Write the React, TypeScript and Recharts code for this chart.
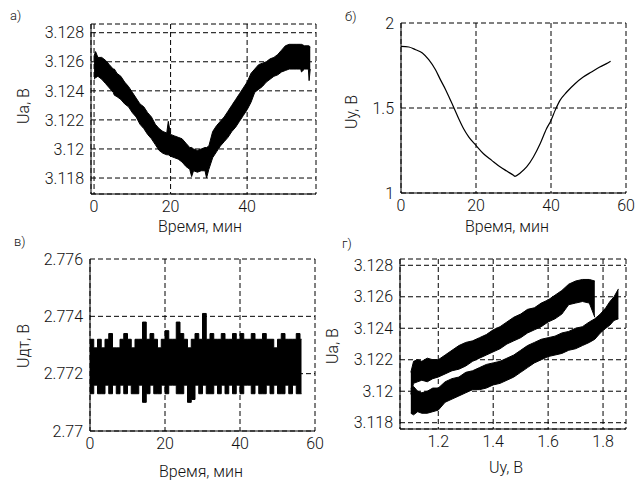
import { ComposedChart, Area, Line, XAxis, YAxis, CartesianGrid } from 'recharts'

const FONT = 'Roboto, "Liberation Sans", Arial, sans-serif'

// а) Ua vs time: noisy band, upper and lower edge
const timeA = [0, 0.4, 1, 2, 3, 4, 5, 5.3, 6, 7, 8, 9, 10, 11, 12, 13, 14, 15, 16, 17, 18, 19, 19.4, 20, 21, 22, 23, 24, 25, 25.5, 26, 27, 28, 29, 29.4, 30, 31, 32, 33, 34, 35, 36, 37, 38, 39, 40, 41, 42, 43, 44, 45, 46, 47, 48, 49, 50, 51, 52, 53, 54, 54.2, 55, 56, 56.2, 56.5]
const uaHiA = [3.1264, 3.1267, 3.1263, 3.1263, 3.1261, 3.1258, 3.1255, 3.1255, 3.1252, 3.125, 3.1246, 3.1243, 3.1239, 3.1235, 3.1231, 3.1229, 3.1225, 3.1222, 3.1217, 3.1214, 3.1212, 3.1211, 3.1219, 3.121, 3.1209, 3.1208, 3.1207, 3.1204, 3.1201, 3.1201, 3.12, 3.1199, 3.12, 3.1201, 3.1201, 3.1202, 3.1212, 3.1216, 3.1219, 3.1222, 3.1226, 3.123, 3.1234, 3.1238, 3.1242, 3.1246, 3.1252, 3.1255, 3.1258, 3.1259, 3.126, 3.1262, 3.1263, 3.1265, 3.1268, 3.1271, 3.1272, 3.1272, 3.1272, 3.1272, 3.1272, 3.1271, 3.1271, 3.1271, 3.127]
const uaLoA = [3.1248, 3.1249, 3.125, 3.1248, 3.1245, 3.1242, 3.1239, 3.1237, 3.1236, 3.1234, 3.1231, 3.1229, 3.1225, 3.1222, 3.1217, 3.1214, 3.121, 3.1207, 3.1203, 3.1199, 3.1197, 3.1196, 3.1196, 3.1195, 3.1194, 3.1193, 3.1191, 3.1188, 3.1186, 3.1181, 3.1185, 3.1184, 3.1185, 3.1185, 3.118, 3.1186, 3.1194, 3.1198, 3.1202, 3.1205, 3.1208, 3.1212, 3.1215, 3.1219, 3.1223, 3.1227, 3.1232, 3.1239, 3.1241, 3.1243, 3.1246, 3.1248, 3.125, 3.1251, 3.1253, 3.1254, 3.1255, 3.1255, 3.1255, 3.1255, 3.1253, 3.1255, 3.1255, 3.1247, 3.1255]

// б) Uy vs time
const timeB = [0, 2.1, 3.9, 5.7, 7.4, 9.2, 10.5, 11.9, 13.2, 14.1, 15.4, 16.7, 18.1, 20, 22, 24.2, 26.5, 28.2, 30, 30.4, 31.8, 33.5, 35.3, 37.1, 38.8, 40, 41.1, 42.4, 44.2, 46.4, 48.6, 50.8, 53, 54.8, 55.9]
const uyB = [1.863, 1.859, 1.843, 1.824, 1.784, 1.725, 1.667, 1.608, 1.545, 1.502, 1.437, 1.378, 1.329, 1.28, 1.231, 1.192, 1.153, 1.129, 1.104, 1.098, 1.118, 1.153, 1.212, 1.29, 1.378, 1.427, 1.486, 1.545, 1.594, 1.643, 1.682, 1.712, 1.741, 1.761, 1.775]

// в) Uдт vs time
const timeC = [0, 1, 2, 3, 4, 5, 6, 7, 8, 9, 10, 11, 12, 13, 14, 15, 16, 17, 18, 19, 20, 21, 22, 23, 24, 25, 26, 27, 28, 29, 30, 31, 32, 33, 34, 35, 36, 37, 38, 39, 40, 41, 42, 43, 44, 45, 46, 47, 48, 49, 50, 51, 52, 53, 54, 55, 56, 56.4]
const udtHiC = [2.7732, 2.7729, 2.7732, 2.7729, 2.7732, 2.7734, 2.7729, 2.7729, 2.7732, 2.7734, 2.7732, 2.7729, 2.7732, 2.7732, 2.7738, 2.7732, 2.7734, 2.7732, 2.7729, 2.7732, 2.7735, 2.7732, 2.7732, 2.7738, 2.7734, 2.7732, 2.7729, 2.7732, 2.7734, 2.7732, 2.7741, 2.7732, 2.7734, 2.7732, 2.7732, 2.7734, 2.7732, 2.7732, 2.7734, 2.7732, 2.7734, 2.7732, 2.7732, 2.7734, 2.7732, 2.7732, 2.7734, 2.7732, 2.7732, 2.7729, 2.7732, 2.7734, 2.7732, 2.7732, 2.7732, 2.7734, 2.7732, 2.7732]
const udtLoC = [2.7713, 2.7716, 2.7713, 2.7713, 2.7716, 2.7713, 2.7716, 2.7713, 2.7716, 2.7713, 2.7716, 2.7713, 2.7713, 2.7716, 2.771, 2.7713, 2.7716, 2.7713, 2.7713, 2.7716, 2.7713, 2.7716, 2.7716, 2.7713, 2.7713, 2.7716, 2.771, 2.7711, 2.7716, 2.7713, 2.7716, 2.7713, 2.7713, 2.7716, 2.7713, 2.7716, 2.7713, 2.7716, 2.7713, 2.7716, 2.7713, 2.7716, 2.7716, 2.7713, 2.7716, 2.7713, 2.7713, 2.7716, 2.7713, 2.7716, 2.7713, 2.7713, 2.7716, 2.7713, 2.7716, 2.7713, 2.7713, 2.7713]

// г) Ua vs Uy: two branches of the loop
const uyD = [1.1, 1.11, 1.125, 1.14, 1.16, 1.18, 1.2, 1.225, 1.25, 1.275, 1.3, 1.325, 1.35, 1.375, 1.4, 1.425, 1.45, 1.475, 1.5, 1.525, 1.55, 1.575, 1.6, 1.625, 1.65, 1.675, 1.7, 1.725, 1.75, 1.77, 1.79, 1.81, 1.825, 1.84, 1.856]
const upHiD = [3.1212, 3.1219, 3.122, 3.1219, 3.1221, 3.122, 3.122, 3.1223, 3.1226, 3.1229, 3.1231, 3.1232, 3.1234, 3.1236, 3.1239, 3.1241, 3.1244, 3.1247, 3.1249, 3.1252, 3.1253, 3.1256, 3.1258, 3.1261, 3.1264, 3.1268, 3.127, 3.1271, 3.1271, 3.127]
const upLoD = [3.1198, 3.1205, 3.1206, 3.1207, 3.1206, 3.1208, 3.1209, 3.1211, 3.1213, 3.1214, 3.1216, 3.1219, 3.1221, 3.1223, 3.1225, 3.1227, 3.123, 3.1232, 3.1234, 3.1237, 3.1239, 3.1241, 3.1244, 3.1246, 3.1249, 3.1255, 3.1256, 3.1257, 3.1256, 3.1247]
const downHiD = [3.1202, 3.1203, 3.12, 3.1199, 3.12, 3.1202, 3.1202, 3.1206, 3.1208, 3.1209, 3.1212, 3.1213, 3.1215, 3.1217, 3.1218, 3.1219, 3.1221, 3.1223, 3.1226, 3.1229, 3.1231, 3.1233, 3.1234, 3.1235, 3.1237, 3.1238, 3.124, 3.1241, 3.1244, 3.1246, 3.1249, 3.1253, 3.1257, 3.126, 3.1265]
const downLoD = [3.1186, 3.1185, 3.1187, 3.1186, 3.1186, 3.1187, 3.1188, 3.1193, 3.1195, 3.1197, 3.1199, 3.1201, 3.1201, 3.1202, 3.1204, 3.1205, 3.1207, 3.1209, 3.1212, 3.1215, 3.1218, 3.122, 3.1222, 3.1223, 3.1224, 3.1226, 3.1227, 3.1229, 3.1231, 3.1233, 3.1237, 3.124, 3.1242, 3.1245, 3.1246]

const dataA = timeA.map((t, i) => ({ t, band: [uaLoA[i], uaHiA[i]] }))
const dataB = timeB.map((t, i) => ({ t, uy: uyB[i] }))
const dataC = timeC.map((t, i) => ({ t, band: [udtLoC[i], udtHiC[i]] }))
const dataD = uyD.map((u, i) => ({
  u,
  up: i < upHiD.length ? [upLoD[i], upHiD[i]] : undefined,
  down: [downLoD[i], downHiD[i]],
}))

const PAD_L = 80
const PAD_T = 10
const PAD_R = 20
const PAD_B = 40

const INK = '#111'
const tickStyle = { fill: INK, fontSize: 16, fontFamily: FONT, fontWeight: 300 }
const fmt = (v: number) => String(+Number(v).toFixed(4))

interface Box { x: number; y: number; w: number; h: number }

function Plot({ box, data, xKey, xDomain, yDomain, xTicks, yTicks, children }: {
  box: Box
  data: any[]
  xKey: string
  xDomain: [number, number]
  yDomain: [number, number]
  xTicks: number[]
  yTicks: number[]
  children: React.ReactNode
}) {
  return (
    <div style={{ position: 'absolute', left: box.x - PAD_L, top: box.y - PAD_T }}>
      <ComposedChart
        width={box.w + PAD_L + PAD_R}
        height={box.h + PAD_T + PAD_B}
        data={data}
        margin={{ top: PAD_T, right: PAD_R, bottom: 0, left: 0 }}
      >
        <CartesianGrid stroke="#000" strokeDasharray="5 3" />
        <XAxis
          dataKey={xKey}
          type="number"
          domain={xDomain}
          ticks={xTicks}
          interval={0}
          allowDataOverflow
          height={PAD_B}
          tickLine={false}
          tickSize={0}
          tickMargin={7}
          axisLine={{ stroke: '#000' }}
          tick={tickStyle}
          tickFormatter={fmt}
        />
        <XAxis
          xAxisId="top"
          orientation="top"
          type="number"
          domain={xDomain}
          allowDataOverflow
          height={0}
          tick={false}
          tickLine={false}
          axisLine={{ stroke: '#000' }}
        />
        <YAxis
          type="number"
          domain={yDomain}
          ticks={yTicks}
          interval={0}
          allowDataOverflow
          width={PAD_L}
          tickLine={false}
          tickSize={0}
          tickMargin={7}
          axisLine={{ stroke: '#000' }}
          tick={tickStyle}
          tickFormatter={fmt}
        />
        <YAxis
          yAxisId="right"
          orientation="right"
          type="number"
          domain={yDomain}
          allowDataOverflow
          width={0}
          tick={false}
          tickLine={false}
          axisLine={{ stroke: '#000' }}
        />
        {children}
      </ComposedChart>
    </div>
  )
}

export default function App() {
  return (
    <div style={{ position: 'absolute', left: 0, top: 0, width: 643, height: 481, background: '#fff', fontFamily: FONT }}>
      <Plot box={{ x: 91, y: 24, w: 225, h: 170 }} data={dataA} xKey="t" xDomain={[-0.8, 58]} yDomain={[3.1169, 3.1286]}
        xTicks={[0, 20, 40]} yTicks={[3.118, 3.12, 3.122, 3.124, 3.126, 3.128]}>
        <Area dataKey="band" type="linear" stroke="#000" strokeWidth={1} fill="#000" fillOpacity={1} isAnimationActive={false} />
      </Plot>
      <Plot box={{ x: 401, y: 23, w: 225, h: 170 }} data={dataB} xKey="t" xDomain={[0, 60]} yDomain={[1, 2]}
        xTicks={[0, 20, 40, 60]} yTicks={[1, 1.5, 2]}>
        <Line dataKey="uy" type="monotone" stroke="#000" strokeWidth={1.2} dot={false} isAnimationActive={false} />
      </Plot>
      <Plot box={{ x: 90, y: 259, w: 225, h: 172 }} data={dataC} xKey="t" xDomain={[0, 60]} yDomain={[2.77, 2.776]}
        xTicks={[0, 20, 40, 60]} yTicks={[2.77, 2.772, 2.774, 2.776]}>
        <Area dataKey="band" type="stepAfter" stroke="#000" strokeWidth={1} fill="#000" fillOpacity={1} isAnimationActive={false} />
      </Plot>
      <Plot box={{ x: 400, y: 259, w: 226, h: 170 }} data={dataD} xKey="u" xDomain={[1.0606, 1.8836]} yDomain={[3.1176, 3.1284]}
        xTicks={[1.2, 1.4, 1.6, 1.8]} yTicks={[3.118, 3.12, 3.122, 3.124, 3.126, 3.128]}>
        <Area dataKey="down" type="linear" stroke="#000" strokeWidth={1} fill="#000" fillOpacity={1} isAnimationActive={false} />
        <Area dataKey="up" type="linear" stroke="#000" strokeWidth={1} fill="#000" fillOpacity={1} isAnimationActive={false} />
      </Plot>
      <svg width={643} height={481} style={{ position: 'absolute', left: 0, top: 0, pointerEvents: 'none' }} fontFamily={FONT} fontWeight={300} fill={INK}>
        <text x={10} y={20} fontSize={13}>а)</text>
        <text x={345} y={21} fontSize={13}>б)</text>
        <text x={14} y={246} fontSize={13}>в)</text>
        <text x={342} y={248} fontSize={13}>г)</text>
        <text x={200} y={232} fontSize={16} textAnchor="middle">Время, мин</text>
        <text x={507} y={232} fontSize={16} textAnchor="middle">Время, мин</text>
        <text x={201} y={477} fontSize={16} textAnchor="middle">Время, мин</text>
        <text x={506} y={473} fontSize={16} textAnchor="middle">Uу, В</text>
        <text x={29} y={106} fontSize={16} textAnchor="middle" transform="rotate(-90 29 106)">Uа, В</text>
        <text x={357} y={112} fontSize={16} textAnchor="middle" transform="rotate(-90 357 112)">Uу, В</text>
        <text x={29} y={346} fontSize={16} textAnchor="middle" transform="rotate(-90 29 346)">Uдт, В</text>
        <text x={338} y={346} fontSize={16} textAnchor="middle" transform="rotate(-90 338 346)">Uа, В</text>
      </svg>
    </div>
  )
}
